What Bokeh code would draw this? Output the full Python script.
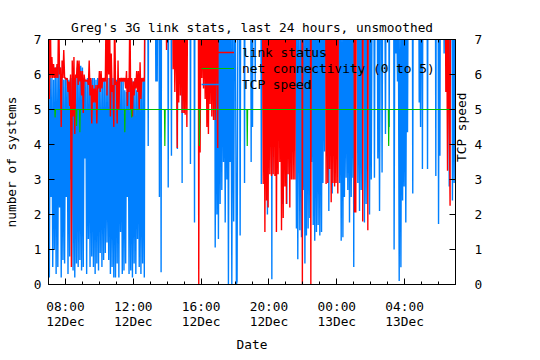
import math
from bokeh.plotting import figure
from bokeh.models import Range1d, LinearAxis, FixedTicker, Legend, LegendItem, ColumnDataSource
from bokeh.embed import file_html
from bokeh.resources import INLINE

FONT = "DejaVu Sans Mono"
FS = "12.8px"

title_text = "Greg's 3G link stats, last 24 hours, unsmoothed"
x_label = "Date"
y_label = "number of systems"
y2_label = "TCP speed"

# hours counted from 00:00 on 12 Dec
tick_hours = [8, 12, 16, 20, 24, 28]
tick_labels = ["08:00\n12Dec", "12:00\n12Dec", "16:00\n12Dec",
               "20:00\n12Dec", "00:00\n13Dec", "04:00\n13Dec"]
minor_hours = [7, 9, 10, 11, 13, 14, 15, 17, 18, 19, 21, 22, 23,
               25, 26, 27, 29, 30, 31]
y_ticks = [0, 1, 2, 3, 4, 5, 6, 7]

# series labels
status_label = "link status"
net_label = "net connectivity (0 to 5)"
tcp_label = "TCP speed"

# values above 7 are off the top of the chart (clipped)
status_hours = [
    7.00, 7.05, 7.10, 7.15, 7.20, 7.25, 7.30, 7.35, 7.40, 7.45,
    7.50, 7.55, 7.60, 7.65, 7.70, 7.75, 7.80, 7.85, 7.90, 7.95,
    8.00, 8.05, 8.10, 8.15, 8.20, 8.25, 8.30, 8.35, 8.40, 8.45,
    8.50, 8.55, 8.60, 8.65, 8.70, 8.75, 8.80, 8.85, 8.90, 8.95,
    9.00, 9.05, 9.10, 9.15, 9.20, 9.25, 9.30, 9.35, 9.40, 9.45,
    9.50, 9.55, 9.60, 9.65, 9.70, 9.75, 9.80, 9.85, 9.90, 9.95,
    10.00, 10.05, 10.10, 10.15, 10.20, 10.25, 10.30, 10.35, 10.40, 10.45,
    10.50, 10.55, 10.60, 10.65, 10.70, 10.75, 10.80, 10.85, 10.90, 10.95,
    11.00, 11.05, 11.10, 11.15, 11.20, 11.25, 11.30, 11.35, 11.40, 11.45,
    11.50, 11.55, 11.60, 11.65, 11.70, 11.75, 11.80, 11.85, 11.90, 11.95,
    12.00, 12.05, 12.10, 12.15, 12.20, 12.25, 12.30, 12.35, 12.40, 12.45,
    12.50, 12.55, 12.60, 12.65, 12.68,
    13.94, 13.96, 13.98,
    14.33, 14.35, 14.40, 14.45, 14.52, 14.59, 14.63, 14.68, 14.73, 14.78,
    14.83, 14.88, 14.93, 14.98, 15.03, 15.06, 15.11, 15.16, 15.20,
    15.84, 15.86, 15.90, 15.94, 15.99, 16.04, 16.09, 16.14, 16.19, 16.24,
    16.29, 16.34, 16.39, 16.43, 16.48, 16.53, 16.58, 16.63, 16.68, 16.73,
    16.78, 16.83, 16.90, 16.98, 17.00,
    19.62, 19.66, 19.71, 19.76, 19.81, 19.86, 19.90, 19.95, 20.00, 20.05,
    20.10, 20.15, 20.20, 20.25, 20.30, 20.35, 20.40, 20.44, 20.49, 20.54,
    20.59, 20.64, 20.69, 20.74, 20.79, 20.84, 20.89, 20.94, 20.99, 21.03,
    21.08, 21.13, 21.18, 21.23, 21.28, 21.33, 21.38, 21.43, 21.48, 21.53,
    21.56,
    21.95, 21.97, 21.99, 22.45, 22.47, 22.49,
    23.35, 23.37, 23.42, 23.47, 23.52, 23.57, 23.62, 23.67, 23.72, 23.77,
    23.82, 23.87, 23.92, 23.96, 24.01, 24.06, 24.09,
    25.02, 25.04, 25.08, 25.12, 25.14,
    25.51, 25.53, 25.55, 25.81, 25.83, 25.85,
    30.41, 30.43, 30.48, 30.53, 30.58, 30.68, 30.70,
]
status_values = [
    8, 5.3, 8, 5.9, 6.5, 5.9, 6.3, 5.9, 6.2, 5.9,
    6.3, 5.9, 8, 6.0, 6.2, 4.5, 6.4, 5.9, 6.7, 5.9,
    5.9, 5.85, 5.9, 5.5, 5.8, 5.1, 6.0, 0.5, 6.4, 4.8,
    6.5, 4.3, 6.0, 5.9, 6.4, 5.7, 6.4, 5.8, 6.1, 5.4,
    6.1, 4.9, 6.0, 5.8, 5.85, 5.8, 5.85, 5.7, 6.4, 5.4,
    5.9, 4.6, 5.7, 5.2, 5.6, 5.2, 5.7, 4.6, 5.7, 5.6,
    6.1, 5.5, 6.1, 5.6, 5.9, 5.8, 5.9, 5.8, 8, 5.4,
    8, 6.0, 8, 4.8, 6.6, 5.5, 5.7, 4.5, 8, 5.7,
    5.8, 4.6, 6.4, 5.0, 5.9, 5.8, 5.9, 5.8, 5.9, 5.8,
    5.9, 5.6, 6.1, 5.1, 5.9, 5.5, 8, 5.0, 5.9, 4.8,
    5.8, 5.4, 5.9, 5.6, 6.1, 5.5, 6.1, 5.0, 6.35, 5.3,
    5.9, 5.8, 5.9, 5.8, 8,
    8, 6.7, 8,
    8, 6.15, 8, 5.5, 8, 3.9, 8, 5.2, 8, 5.4,
    8, 4.9, 8, 4.9, 8, 4.85, 8, 4.5, 8,
    8, 0.0, 8, 3.77, 8, 5.9, 8, 5.6, 8, 5.3,
    8, 4.5, 8, 4.3, 8, 5.16, 8, 4.8, 8, 4.7,
    8, 4.7, 8, 3.9, 8,
    8, 2.87, 8, 1.5, 8, 2.4, 8, 2.2, 8, 3.15,
    8, 3.1, 8, 3.15, 8, 3.1, 8, 1.5, 8, 3.15,
    8, 3.5, 8, 1.55, 8, 1.9, 8, 2.8, 8, 2.3,
    8, 3.15, 8, 2.2, 8, 3.0, 8, 3.0, 8, 3.0,
    8,
    8, 0.0, 8, 8, 0.0, 8,
    8, 2.87, 8, 2.9, 8, 3.3, 8, 2.35, 8, 2.9,
    8, 2.8, 8, 2.9, 8, 2.6, 8,
    8, 2.06, 8, 2.06, 8,
    8, 1.8, 8, 8, 1.55, 8,
    8, 5.5, 8, 3.25, 8, 2.25, 8,
]

net_hours = [7.00, 7.37, 7.39, 7.41, 8.63, 8.65, 8.67, 8.83, 8.85, 8.87,
             11.48, 11.50, 11.52, 11.88, 11.90, 11.92, 13.84, 13.86, 13.88,
             15.88, 15.90, 15.92, 18.70, 18.72, 18.74, 27.04, 27.06, 27.08, 31.00]
net_values = [5, 5, 4.77, 5, 5, 4.53, 5, 5, 4.35, 5,
              5, 4.35, 5, 5, 4.77, 5, 5, 3.96, 5,
              5, 3.96, 5, 5, 3.96, 5, 5, 3.96, 5, 5]

tcp_hours = [
    7.00, 7.05, 7.10, 7.15, 7.20, 7.25, 7.30, 7.35, 7.40, 7.45,
    7.50, 7.55, 7.60, 7.65, 7.70, 7.75, 7.80, 7.85, 7.90, 7.95,
    8.00, 8.05, 8.10, 8.15, 8.20, 8.25, 8.30, 8.35, 8.40, 8.45,
    8.50, 8.55, 8.60, 8.65, 8.70, 8.75, 8.80, 8.85, 8.90, 8.95,
    9.00, 9.05, 9.10, 9.15, 9.20, 9.25, 9.30, 9.35, 9.40, 9.45,
    9.50, 9.55, 9.60, 9.65, 9.70, 9.75, 9.80, 9.85, 9.90, 9.95,
    10.00, 10.05, 10.10, 10.15, 10.20, 10.25, 10.30, 10.35, 10.40, 10.45,
    10.50, 10.55, 10.60, 10.65, 10.70, 10.75, 10.80, 10.85, 10.90, 10.95,
    11.00, 11.05, 11.10, 11.15, 11.20, 11.25, 11.30, 11.35, 11.40, 11.45,
    11.50, 11.55, 11.60, 11.65, 11.70, 11.75, 11.80, 11.85, 11.90, 11.95,
    12.00, 12.05, 12.10, 12.15, 12.20, 12.25, 12.30, 12.35, 12.40, 12.45,
    12.50, 12.55, 12.60, 12.65, 12.68,
    12.86, 12.88, 12.90, 13.31, 13.33, 13.35, 13.39, 13.41, 13.43,
    13.52, 13.54, 13.56, 13.62, 13.64, 13.66, 14.04, 14.06, 14.08,
    14.23, 14.25, 14.27, 14.58, 14.60, 14.62, 14.86, 14.88, 14.90,
    15.35, 15.37, 15.39, 15.59, 15.61, 15.63,
    16.81, 16.83, 16.88, 16.93, 16.98, 17.02, 17.07, 17.12, 17.17, 17.22,
    17.27, 17.32, 17.37, 17.42, 17.47, 17.52, 17.57, 17.61, 17.66, 17.71,
    17.76, 17.81, 17.86, 17.92, 17.97, 18.02, 18.08, 18.12, 18.17,
    18.27, 18.30, 18.33, 18.54, 18.56, 18.58, 18.93, 18.95, 18.97,
    19.01, 19.03, 19.05, 19.17, 19.19, 19.21, 19.53, 19.55, 19.57,
    19.89, 19.91, 19.93, 20.15, 20.17, 20.19, 20.68, 20.70, 20.72,
    20.78, 20.80, 20.82, 21.03, 21.05, 21.07, 21.37, 21.39, 21.41,
    21.57, 21.62, 21.66, 21.70, 21.76, 21.82, 21.87, 21.92, 21.97, 22.02,
    22.07, 22.12, 22.17, 22.21, 22.26, 22.31, 22.36, 22.41, 22.46, 22.51,
    22.56, 22.61, 22.66, 22.70, 22.75, 22.80, 22.85, 22.90, 22.95, 23.00,
    23.05, 23.10, 23.14, 23.18, 23.23, 23.28, 23.33,
    23.50, 23.53, 23.56, 23.70, 23.73, 23.76,
    24.11, 24.16, 24.21, 24.26, 24.31, 24.36, 24.41, 24.45, 24.50, 24.55,
    24.60, 24.65, 24.70, 24.75, 24.80, 24.85, 24.90, 24.95, 24.98, 25.00,
    25.02,
    25.21, 25.24, 25.29, 25.34, 25.39, 25.44, 25.49,
    25.60, 25.63, 25.68, 25.73, 25.78, 25.90, 25.93, 25.98, 26.03, 26.08,
    26.19, 26.22, 26.25, 26.39, 26.42, 26.47, 26.52, 26.57,
    26.64, 26.67, 26.70, 26.84, 26.87, 26.90,
    27.07, 27.09, 27.11,
    27.36, 27.38, 27.42, 27.48, 27.53, 27.58, 27.63, 27.68, 27.73, 27.78,
    27.83, 27.88, 27.93, 27.97, 28.02, 28.07, 28.12, 28.17, 28.20,
    28.46, 28.48, 28.50, 28.84, 28.86, 28.90, 28.94, 28.97,
    29.03, 29.05, 29.07, 29.33, 29.35, 29.37, 29.82, 29.84, 29.86,
    29.98, 30.00, 30.04, 30.08, 30.10, 30.31, 30.33, 30.35,
    30.61, 30.63, 30.66, 30.80, 30.82, 30.87, 30.92, 30.97, 31.02,
]
tcp_speed = [
    5.9, 0.2, 5.9, 2.5, 5.9, 0.5, 5.85, 1.0, 6.2, 0.3,
    6.2, 0.5, 6.25, 2.2, 6.2, 0.2, 5.9, 0.7, 5.85, 0.6,
    5.9, 2.5, 5.9, 0.3, 5.85, 0.8, 5.9, 3.0, 5.9, 0.4,
    5.85, 0.2, 5.9, 0.6, 6.2, 0.5, 6.2, 0.7, 6.25, 0.4,
    6.2, 0.5, 5.9, 3.6, 5.85, 0.3, 5.9, 1.3, 5.9, 0.5,
    5.85, 0.8, 5.9, 0.5, 5.9, 0.3, 5.85, 0.6, 5.9, 0.4,
    5.9, 0.9, 5.85, 0.5, 5.9, 0.7, 5.9, 0.9, 5.85, 1.2,
    5.9, 0.7, 5.9, 0.3, 5.85, 0.5, 5.9, 0.2, 5.9, 0.2,
    5.85, 0.6, 5.9, 0.2, 5.9, 1.5, 5.85, 0.3, 5.9, 0.4,
    5.55, 0.6, 5.5, 2.5, 5.85, 0.3, 5.8, 0.4, 5.85, 0.2,
    5.8, 0.6, 5.85, 0.3, 5.55, 1.3, 5.8, 0.5, 5.85, 0.3,
    5.8, 0.6, 5.85, 0.2, 8,
    8, 3.96, 8, 8, 5.8, 8, 8, 5.8, 8,
    8, 2.5, 8, 8, 0.35, 8, 8, 2.77, 8,
    8, 3.68, 8, 8, 3.87, 8, 8, 2.9, 8,
    8, 3.44, 8, 8, 1.77, 8,
    8, 1.06, 8, 2.0, 8, 1.3, 8, 2.3, 8, 2.7,
    8, 3.5, 8, 1.77, 8, 3.0, 8, 0.0, 8, 3.5,
    8, 0.0, 8, 1.8, 8, 8, 0.0, 0.1, 8,
    8, 1.4, 8, 8, 2.9, 8, 8, 3.5, 8,
    8, 4.5, 8, 8, 5.8, 8, 8, 2.87, 8,
    8, 2.0, 8, 8, 0.15, 8, 8, 3.6, 8,
    8, 2.3, 8, 8, 2.3, 8, 8, 4.0, 8,
    8, 1.6, 8, 0.72, 8, 1.55, 8, 1.35, 8, 2.7,
    8, 0.6, 8, 1.4, 8, 1.6, 8, 1.9, 8, 3.5,
    8, 1.7, 8, 1.25, 8, 1.5, 8, 1.7, 8, 1.4,
    8, 1.5, 8, 2.9, 8, 3.8, 8,
    8, 2.1, 8, 8, 2.6, 8,
    8, 2.9, 8, 1.25, 8, 1.35, 8, 2.5, 8, 3.05,
    8, 2.7, 8, 1.77, 8, 2.5, 8, 3.05, 8, 0.5,
    8,
    8, 2.9, 8, 2.1, 8, 2.7, 8,
    8, 1.77, 8, 2.3, 8, 8, 2.0, 8, 3.0, 8,
    8, 3.05, 8, 8, 3.6, 8, 2.1, 8,
    8, 3.2, 8, 8, 4.3, 8,
    8, 4.5, 8,
    8, 1.0, 8, 6.6, 8, 5.8, 8, 0.1, 8, 0.49,
    8, 2.4, 8, 2.8, 8, 1.77, 8, 4.35, 8,
    8, 2.6, 8, 8, 5.2, 8, 4.5, 8,
    8, 3.3, 8, 8, 3.3, 8, 8, 3.1, 8,
    8, 1.73, 8, 3.68, 8, 8, 6.6, 8,
    8, 2.8, 8, 8, 2.4, 8, 2.9, 8, 6.2,
]

RED = "#ff0000"
GREEN = "#00c000"
BLUE = "#0080ff"

p = figure(frame_width=407, frame_height=245,
           x_range=Range1d(7, 31), y_range=Range1d(0, 7),
           x_axis_type=None, y_axis_type=None,
           output_backend="svg", toolbar_location=None,
           min_border_left=44, min_border_right=73,
           min_border_top=39, min_border_bottom=60)
p.extra_y_ranges = {"y2": Range1d(0, 7)}
p.xgrid.visible = False
p.ygrid.visible = False
p.outline_line_color = "black"
p.outline_line_width = 1
p.background_fill_color = "white"
p.border_fill_color = "white"

p.title.text = title_text
p.title.align = "center"
p.title.text_font = FONT
p.title.text_font_size = FS
p.title.text_font_style = "normal"
p.title.text_color = "black"
p.title.offset = -9


def style_axis(ax):
    ax.axis_line_color = "black"
    ax.major_tick_line_color = "black"
    ax.minor_tick_line_color = "black"
    ax.major_tick_in = 6
    ax.major_tick_out = 0
    ax.minor_tick_in = 3
    ax.minor_tick_out = 0
    ax.major_label_text_font = FONT
    ax.major_label_text_font_size = FS
    ax.major_label_text_color = "black"
    ax.axis_label_text_font = FONT
    ax.axis_label_text_font_size = FS
    ax.axis_label_text_font_style = "normal"
    ax.axis_label_text_color = "black"


x_ticker = FixedTicker(ticks=tick_hours, minor_ticks=minor_hours)
y_ticker = FixedTicker(ticks=y_ticks, minor_ticks=[])

xb = LinearAxis(ticker=x_ticker, axis_label=x_label,
                major_label_overrides={h: t for h, t in zip(tick_hours, tick_labels)})
style_axis(xb)
xb.major_label_standoff = 14
xb.major_label_text_line_height = 1.0
xb.axis_label_standoff = 5
p.add_layout(xb, "below")

xt = LinearAxis(ticker=x_ticker,
                major_label_overrides={h: "" for h in tick_hours})
style_axis(xt)
xt.major_label_text_font_size = "1px"
xt.major_label_standoff = 0
p.add_layout(xt, "above")

yl = LinearAxis(ticker=y_ticker, axis_label=y_label)
style_axis(yl)
yl.major_label_standoff = 7
yl.axis_label_standoff = 12
p.add_layout(yl, "left")

yr = LinearAxis(ticker=y_ticker, y_range_name="y2", axis_label=y2_label)
style_axis(yr)
yr.major_label_standoff = 19
yr.axis_label_standoff = -24
if "axis_label_orientation" in LinearAxis.properties():
    yr.axis_label_orientation = math.pi / 2
p.add_layout(yr, "right")

tcp_src = ColumnDataSource(dict(x=tcp_hours, y=tcp_speed))
status_src = ColumnDataSource(dict(x=status_hours, y=status_values))
net_src = ColumnDataSource(dict(x=net_hours, y=net_values))

r_tcp = p.line("x", "y", source=tcp_src, y_range_name="y2",
               line_color=BLUE, line_width=1.4)
r_status = p.line("x", "y", source=status_src,
                  line_color=RED, line_width=1.4)
r_net = p.line("x", "y", source=net_src,
               line_color=GREEN, line_width=1.2)

legend = Legend(items=[LegendItem(label=status_label, renderers=[r_status]),
                       LegendItem(label=net_label, renderers=[r_net]),
                       LegendItem(label=tcp_label, renderers=[r_tcp])],
                location=(153, 192))
legend.glyph_width = 33
legend.glyph_height = 16
legend.label_height = 16
legend.label_standoff = 8
legend.label_text_font = FONT
legend.label_text_font_size = FS
legend.label_text_color = "black"
legend.spacing = 0
legend.padding = 0
legend.margin = 0
legend.background_fill_alpha = 0
legend.border_line_color = None
p.add_layout(legend, "center")

open("out.html", "w").write(file_html(p, INLINE))
